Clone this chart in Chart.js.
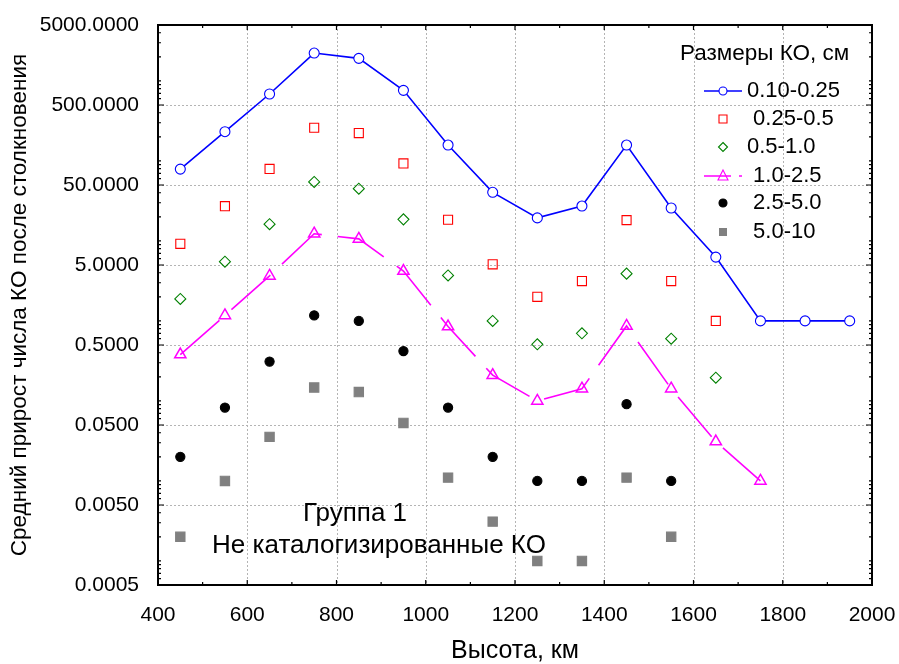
<!doctype html>
<html lang="ru">
  <head>
    <meta charset="utf-8" />
    <title>Группа 1</title>
    <script src="https://cdn.jsdelivr.net/npm/chart.js/dist/chart.umd.min.js"></script>
    <style>
      html, body { margin: 0; padding: 0; background: #fff; }
      .chartBox { width: 899px; height: 664px; }
    </style>
  </head>
  <body>
    <div class="chartBox">
      <canvas id="myChart" width="899" height="664"></canvas>
    </div>

    <script>
      // altitudes, km
      const altitudes = [450, 550, 650, 750, 850, 950, 1050, 1150, 1250, 1350, 1450, 1550, 1650, 1750, 1850, 1950];

      // mean growth of debris count, one list per size range (cm)
      const size010_025 = [79, 232, 686, 2230, 1915, 762, 158, 40.5, 19.4, 27.3, 158, 25.8, 6.28, 1.0, 1.0, 1.0];
      const size025_05 = [9.2, 27.2, 79.4, 260, 223, 93, 18.4, 5.1, 2.0, 3.15, 18.2, 3.15, 1.0];
      const size05_10 = [1.88, 5.5, 16.2, 54.6, 45, 18.6, 3.7, 1.0, 0.51, 0.7, 3.9, 0.6, 0.195];
      const size10_25 = [0.38, 1.17, 3.65, 12.3, 10.6, 4.2, 0.85, 0.21, 0.1, 0.142, 0.865, 0.142, 0.031, 0.01];
      const size25_50 = [0.02, 0.0825, 0.31, 1.17, 1.0, 0.42, 0.0825, 0.02, 0.01, 0.01, 0.091, 0.01];
      const size50_10 = [0.002, 0.01, 0.0355, 0.147, 0.129, 0.053, 0.011, 0.0031, 0.001, 0.001, 0.011, 0.002];

      const seriesNames = ["0.10-0.25", " 0.25-0.5", "0.5-1.0", " 1.0-2.5", " 2.5-5.0", " 5.0-10"];

      // axis ticks
      const xTicks = [400, 600, 800, 1000, 1200, 1400, 1600, 1800, 2000];
      const yTickValues = [0.0005, 0.005, 0.05, 0.5, 5, 50, 500, 5000];
      const yTickLabels = ["0.0005", "0.0050", "0.0500", "0.5000", "5.0000", "50.0000", "500.0000", "5000.0000"];

      const FONT = "'Liberation Sans', Arial, sans-serif";

      function points(values) {
        return values.map((v, i) => ({ x: altitudes[i], y: v }));
      }

      const styles = [
        { color: "#0000ff", point: "circle", fill: "#ffffff", r: 5, line: true },
        { color: "#ff0000", point: "rect", fill: "rgba(0,0,0,0)", r: 6.4, line: false },
        { color: "#008000", point: "rectRot", fill: "rgba(0,0,0,0)", r: 5.5, line: false },
        { color: "#ff00ff", point: "triangle", fill: "rgba(0,0,0,0)", r: 6.5, line: true, dash: [52, 16] },
        { color: "#000000", point: "circle", fill: "#000000", r: 4.6, line: false },
        { color: "#808080", point: "rect", fill: "#808080", r: 6.6, line: false },
      ];
      const allSeries = [size010_025, size025_05, size05_10, size10_25, size25_50, size50_10];

      const datasets = allSeries.map((vals, i) => {
        const s = styles[i];
        return {
          label: seriesNames[i],
          data: points(vals),
          showLine: s.line,
          borderColor: s.color,
          borderWidth: 1.6,
          borderDash: s.dash || [],
          pointStyle: s.point,
          pointRadius: s.r,
          pointBackgroundColor: s.fill,
          pointBorderColor: s.color,
          pointBorderWidth: i === 3 ? 1.5 : 1.1,
          order: 6 - i,
        };
      });

      // frame, dotted grid, inward ticks
      const frame = {
        id: "frame",
        beforeDatasetsDraw(chart) {
          const { ctx, chartArea: { top, bottom, left, right }, scales: { x, y } } = chart;
          ctx.save();
          ctx.lineWidth = 1;
          ctx.strokeStyle = "#b4b4b4";
          ctx.setLineDash([2, 2]);
          xTicks.slice(1, -1).forEach((v) => {
            const px = Math.round(x.getPixelForValue(v)) + 0.5;
            ctx.beginPath();
            ctx.moveTo(px, top);
            ctx.lineTo(px, bottom);
            ctx.stroke();
          });
          yTickValues.slice(1, -1).forEach((v) => {
            const py = Math.round(y.getPixelForValue(v)) + 0.5;
            ctx.beginPath();
            ctx.moveTo(left, py);
            ctx.lineTo(right, py);
            ctx.stroke();
          });
          ctx.setLineDash([]);

          ctx.strokeStyle = "#000";
          ctx.lineWidth = 1.2;
          // x ticks, every 100 km
          for (let v = 400; v <= 2000; v += 100) {
            const px = x.getPixelForValue(v);
            const len = v % 200 === 0 ? 5 : 3;
            ctx.beginPath();
            ctx.moveTo(px, bottom);
            ctx.lineTo(px, bottom - len);
            ctx.moveTo(px, top);
            ctx.lineTo(px, top + len);
            ctx.stroke();
          }
          // y ticks on log scale
          for (let e = -4; e <= 3; e++) {
            for (let n = 1; n <= 9; n++) {
              const v = n * Math.pow(10, e);
              if (v < 0.0005 || v > 5000) continue;
              const py = y.getPixelForValue(v);
              const len = n === 5 ? 6 : 3;
              ctx.beginPath();
              ctx.moveTo(left, py);
              ctx.lineTo(left + len, py);
              ctx.moveTo(right, py);
              ctx.lineTo(right - len, py);
              ctx.stroke();
            }
          }
          ctx.lineWidth = 2;
          ctx.strokeRect(left, top, right - left, bottom - top);
          ctx.restore();
        },
        afterDraw(chart) {
          const { ctx } = chart;
          ctx.save();
          ctx.fillStyle = "#000";
          ctx.textBaseline = "middle";
          // legend
          ctx.font = "22.5px " + FONT;
          ctx.textAlign = "left";
          ctx.fillText("Размеры КО, см", 680, 54);
          const rowY = [91, 119, 147, 176, 203, 232];
          const mx = 723;
          rowY.forEach((ry, i) => {
            const s = styles[i];
            ctx.strokeStyle = s.color;
            ctx.fillStyle = s.fill;
            ctx.lineWidth = 1.4;
            if (i === 0) {
              ctx.beginPath();
              ctx.moveTo(704, ry);
              ctx.lineTo(742, ry);
              ctx.stroke();
            }
            if (i === 3) {
              ctx.beginPath();
              ctx.moveTo(704, ry);
              ctx.lineTo(731, ry);
              ctx.moveTo(739, ry);
              ctx.lineTo(742, ry);
              ctx.stroke();
            }
            ctx.lineWidth = 1.1;
            ctx.beginPath();
            if (s.point === "circle") {
              ctx.arc(mx, ry, 4, 0, Math.PI * 2);
            } else if (s.point === "rect") {
              ctx.rect(mx - 4, ry - 4, 8, 8);
            } else if (s.point === "rectRot") {
              ctx.moveTo(mx, ry - 4.5);
              ctx.lineTo(mx + 4.5, ry);
              ctx.lineTo(mx, ry + 4.5);
              ctx.lineTo(mx - 4.5, ry);
              ctx.closePath();
            } else {
              ctx.moveTo(mx, ry - 6);
              ctx.lineTo(mx + 5, ry + 4);
              ctx.lineTo(mx - 5, ry + 4);
              ctx.closePath();
            }
            ctx.fillStyle = i === 0 ? "#fff" : s.fill;
            ctx.fill();
            if (i !== 5) ctx.stroke();
            ctx.fillStyle = "#000";
            ctx.font = "22px " + FONT;
            ctx.fillText(seriesNames[i], 747, ry);
          });
          // annotation
          ctx.textAlign = "center";
          ctx.font = "26px " + FONT;
          ctx.fillText("Группа 1", 355, 514);
          ctx.fillText("Не каталогизированные КО", 379, 546);
          ctx.restore();
        },
      };

      const config = {
        type: "scatter",
        data: { datasets },
        options: {
          responsive: false,
          animation: false,
          layout: { padding: { left: 0, top: 25, right: 27, bottom: 0 } },
          scales: {
            x: {
              type: "linear",
              min: 400,
              max: 2000,
              afterBuildTicks: (scale) => {
                scale.ticks = xTicks.map((v) => ({ value: v }));
              },
              afterFit: (scale) => {
                scale.height = 79;
                scale.paddingLeft = 0;
                scale.paddingRight = 0;
              },
              grid: { display: false },
              border: { display: false },
              ticks: {
                color: "#000",
                font: { family: FONT, size: 21 },
                padding: 10,
                maxRotation: 0,
                callback: (value) => String(value),
              },
              title: {
                display: true,
                text: "Высота, км",
                color: "#000",
                font: { family: FONT, size: 25, lineHeight: 1 },
                padding: { top: 0, bottom: 0 },
              },
            },
            y: {
              type: "logarithmic",
              min: 0.0005,
              max: 5000,
              afterBuildTicks: (scale) => {
                scale.ticks = yTickValues.map((v) => ({ value: v }));
              },
              afterFit: (scale) => {
                scale.width = 158;
                scale.paddingTop = 0;
                scale.paddingBottom = 0;
              },
              grid: { display: false },
              border: { display: false },
              ticks: {
                color: "#000",
                font: { family: FONT, size: 21 },
                padding: 11,
                callback: (value, index) => yTickLabels[index],
              },
              title: {
                display: true,
                text: "Средний прирост числа КО после столкновения",
                color: "#000",
                font: { family: FONT, size: 22.5, lineHeight: 1 },
                padding: { top: 9, bottom: 0 },
              },
            },
          },
          plugins: {
            legend: { display: false },
            tooltip: { enabled: false },
          },
        },
        plugins: [frame],
      };

      const myChart = new Chart(document.getElementById("myChart"), config);
    </script>
  </body>
</html>
